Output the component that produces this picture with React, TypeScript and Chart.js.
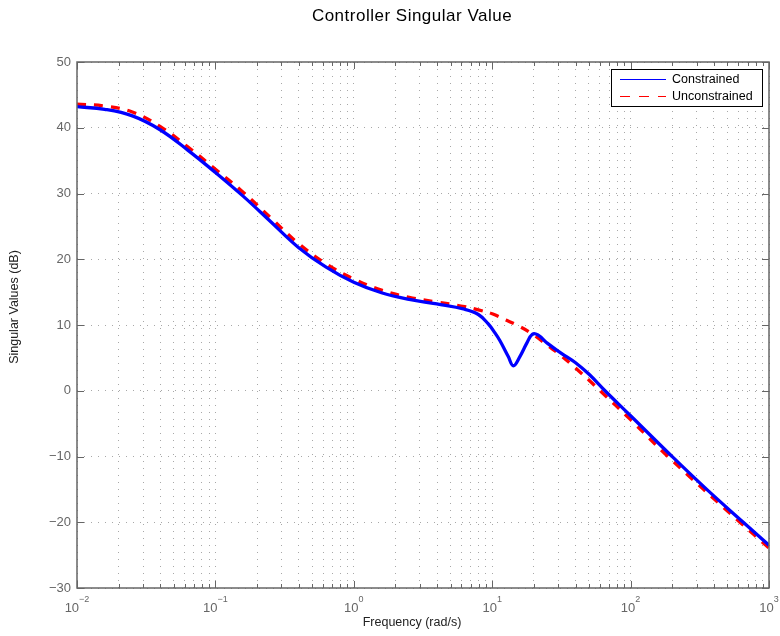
import React, { useEffect, useRef } from "react";
import { Chart, registerables } from "chart.js";

Chart.register(...registerables);

// Frequency response of the controller (rad/s vs dB)
const constrainedFreq = [
  0.01, 0.01585, 0.02512, 0.03981, 0.0631, 0.1, 0.1585, 0.2512, 0.3981, 0.631,
  1.0, 1.585, 2.512, 3.981, 6.31, 7.943, 9.333, 10.47, 11.38, 13.06, 14.22,
  15.85, 17.74, 19.5, 21.38, 25.12, 31.62, 39.81, 50.12, 65.31, 100, 199.5,
  354.8, 651.6, 1000,
];
const constrainedDb = [
  43.2, 42.8, 41.8, 39.7, 36.6, 33.2, 29.6, 25.7, 21.8, 18.8,
  16.5, 14.9, 13.9, 13.2, 12.4, 11.6, 10.2, 8.8, 7.6, 5.2, 3.8,
  5.2, 7.2, 8.6, 8.5, 7.2, 5.7, 4.3, 2.5, 0.0, -3.8, -10.0,
  -15.0, -20.0, -23.5,
];

const unconstrainedFreq = [
  0.01, 0.01585, 0.02512, 0.03981, 0.0631, 0.1, 0.1585, 0.2512, 0.3981, 0.631,
  1.0, 1.585, 2.512, 3.981, 6.31, 7.943, 10.0, 12.59, 15.03, 19.28, 25.12,
  31.62, 39.81, 50.12, 60.26, 100, 186.2, 616.6, 1000,
];
const unconstrainedDb = [
  43.6, 43.3, 42.4, 40.2, 37.1, 33.7, 30.2, 26.3, 22.4, 19.3,
  17.0, 15.3, 14.2, 13.5, 12.8, 12.3, 11.7, 10.75, 10.0, 8.7, 6.9,
  5.3, 3.5, 1.6, 0.0, -4.4, -10.0, -20.0, -23.9,
];

const seriesNames = ["Constrained", "Unconstrained"];
const decadeValues = [0.01, 0.1, 1, 10, 100, 1000];
const decadeExponents = ["\u22122", "\u22121", "0", "1", "2", "3"];
const yTickValues = [-30, -20, -10, 0, 10, 20, 30, 40, 50];

const titleText = "Controller Singular Value";
const xAxisLabel = "Frequency (rad/s)";
const yAxisLabel = "Singular Values (dB)";

const FONT = "'Liberation Sans', Arial, Helvetica, sans-serif";
const AXIS_GRAY = "#666666";
const GRID_GRAY = "rgba(110,110,110,0.6)";

// every 1..9 x 10^k position between the decades, for grid lines and ticks
function logTickValues(): number[] {
  const out: number[] = [];
  for (let k = -2; k <= 2; k++) {
    for (let m = 1; m <= 9; m++) out.push(Number((m * Math.pow(10, k)).toPrecision(3)));
  }
  out.push(1000);
  return out;
}

const decorations = {
  id: "matlabDecorations",
  afterDraw(chart: any) {
    const { ctx, chartArea } = chart;
    const xs = chart.scales.x;
    const ys = chart.scales.y;
    const { left, right, top, bottom } = chartArea;

    ctx.save();

    // axes box
    ctx.strokeStyle = AXIS_GRAY;
    ctx.lineWidth = 1.5;
    ctx.strokeRect(left, top, right - left, bottom - top);

    // x ticks, inward, on bottom and top edges
    ctx.lineWidth = 1;
    for (const v of logTickValues()) {
      const px = Math.round(xs.getPixelForValue(v)) + 0.5;
      const isMajor = decadeValues.some((d) => Math.abs(d - v) / d < 1e-6);
      const len = isMajor ? 7 : 4;
      ctx.beginPath();
      ctx.moveTo(px, bottom);
      ctx.lineTo(px, bottom - len);
      ctx.moveTo(px, top);
      ctx.lineTo(px, top + len);
      ctx.stroke();
    }
    // y ticks, inward, on left and right edges
    for (const v of yTickValues) {
      const py = Math.round(ys.getPixelForValue(v)) + 0.5;
      ctx.beginPath();
      ctx.moveTo(left, py);
      ctx.lineTo(left + 7, py);
      ctx.moveTo(right, py);
      ctx.lineTo(right - 7, py);
      ctx.stroke();
    }

    // y tick labels
    ctx.fillStyle = AXIS_GRAY;
    ctx.font = `13px ${FONT}`;
    ctx.textAlign = "right";
    ctx.textBaseline = "middle";
    for (const v of yTickValues) {
      const py = ys.getPixelForValue(v);
      const txt = v < 0 ? "\u2212" + Math.abs(v) : String(v);
      ctx.fillText(txt, left - 6, py);
    }

    // x tick labels as 10^n
    ctx.textAlign = "left";
    ctx.textBaseline = "alphabetic";
    decadeValues.forEach((v, i) => {
      const px = xs.getPixelForValue(v);
      ctx.font = `13px ${FONT}`;
      const wBase = ctx.measureText("10").width;
      ctx.font = `9px ${FONT}`;
      const wExp = ctx.measureText(decadeExponents[i]).width;
      const start = px - (wBase + wExp) / 2;
      ctx.font = `13px ${FONT}`;
      ctx.fillText("10", start, bottom + 23.5);
      ctx.font = `9px ${FONT}`;
      ctx.fillText(decadeExponents[i], start + wBase, bottom + 14);
    });

    // title and axis labels
    ctx.fillStyle = "#000000";
    ctx.textAlign = "center";
    ctx.font = `17px ${FONT}`;
    (ctx as any).letterSpacing = "0.5px";
    ctx.fillText(titleText, 412, 21);
    (ctx as any).letterSpacing = "0px";

    ctx.font = `12.5px ${FONT}`;
    ctx.fillStyle = "#222222";
    ctx.fillText(xAxisLabel, 412, 626);

    ctx.save();
    ctx.translate(15, 307);
    ctx.rotate(-Math.PI / 2);
    ctx.textBaseline = "middle";
    ctx.fillText(yAxisLabel, 0, 0);
    ctx.restore();

    // legend
    const lx = 611;
    const ly = 69;
    const lw = 151;
    const lh = 37;
    ctx.fillStyle = "#ffffff";
    ctx.fillRect(lx, ly, lw, lh);
    ctx.strokeStyle = "#000000";
    ctx.lineWidth = 1;
    ctx.strokeRect(lx + 0.5, ly + 0.5, lw, lh);

    const rows = [ly + 10.5, ly + 27.5];
    const colors = ["#0000ff", "#ff0000"];
    const dashes = [[], [10, 9]];
    rows.forEach((ry, i) => {
      ctx.strokeStyle = colors[i];
      ctx.lineWidth = 1;
      ctx.setLineDash(dashes[i]);
      ctx.beginPath();
      ctx.moveTo(lx + 9, ry);
      ctx.lineTo(lx + 55, ry);
      ctx.stroke();
      ctx.setLineDash([]);
      ctx.fillStyle = "#000000";
      ctx.font = `12.5px ${FONT}`;
      ctx.textAlign = "left";
      ctx.textBaseline = "middle";
      ctx.fillText(seriesNames[i], lx + 61, ry);
    });

    ctx.restore();
  },
};

export default function App() {
  const canvasRef = useRef<HTMLCanvasElement | null>(null);

  useEffect(() => {
    const canvas = canvasRef.current;
    if (!canvas) return;

    const chart = new Chart(canvas, {
      type: "line",
      data: {
        datasets: [
          {
            label: seriesNames[0],
            data: constrainedFreq.map((f, i) => ({ x: f, y: constrainedDb[i] })),
            borderColor: "#0000ff",
            borderWidth: 3.3,
            pointRadius: 0,
            fill: false,
            tension: 0.4,
          },
          {
            label: seriesNames[1],
            data: unconstrainedFreq.map((f, i) => ({ x: f, y: unconstrainedDb[i] })),
            borderColor: "#ff0000",
            borderWidth: 3.3,
            borderDash: [9, 8],
            borderCapStyle: "butt",
            pointRadius: 0,
            fill: false,
            tension: 0.4,
          },
        ],
      },
      options: {
        animation: false,
        responsive: false,
        devicePixelRatio: 1,
        layout: { padding: { left: 77, top: 62, right: 11, bottom: 48 } },
        plugins: {
          legend: { display: false },
          title: { display: false },
          tooltip: { enabled: false },
        },
        scales: {
          x: {
            type: "logarithmic",
            min: 0.01,
            max: 1000,
            ticks: { display: false },
            afterBuildTicks: (scale: any) => {
              scale.ticks = logTickValues().map((v) => ({ value: v }));
            },
            afterFit: (scale: any) => {
              scale.height = 0;
            },
            grid: { color: GRID_GRAY, lineWidth: 1, drawTicks: false },
            border: { display: false, dash: [1, 6] },
          },
          y: {
            type: "linear",
            min: -30,
            max: 50,
            ticks: { display: false, stepSize: 10 },
            afterFit: (scale: any) => {
              scale.width = 0;
            },
            grid: { color: GRID_GRAY, lineWidth: 1, drawTicks: false },
            border: { display: false, dash: [1, 6] },
          },
        },
      } as any,
      plugins: [decorations],
    });

    return () => chart.destroy();
  }, []);

  return (
    <div style={{ position: "fixed", left: 0, top: 0, width: 780, height: 636, background: "#ffffff" }}>
      <canvas ref={canvasRef} width={780} height={636} style={{ display: "block" }} />
    </div>
  );
}
